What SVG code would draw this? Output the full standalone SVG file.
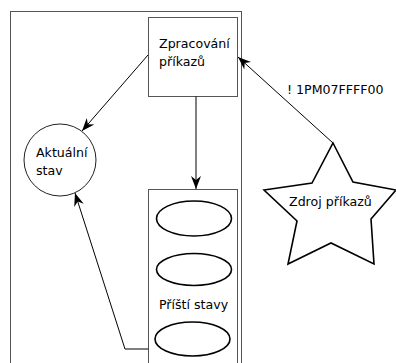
<svg xmlns="http://www.w3.org/2000/svg" width="396" height="363" viewBox="0 0 396 363">
<style>
text{font-family:"DejaVu Sans",sans-serif;font-size:12.6px;fill:#000}
.box{fill:#fff;stroke:#555;stroke-width:1}
.circ{fill:#fff;stroke:#222;stroke-width:1}
.shape{fill:#fff;stroke:#000;stroke-width:1.6}
.edge{fill:none;stroke:#000;stroke-width:1}
</style>
<defs>
<marker id="ah" markerUnits="userSpaceOnUse" markerWidth="16" markerHeight="12" viewBox="-14 -6 16 12" refX="0" refY="0" orient="auto">
<path d="M0,0 L-13,-5 L-9,0 L-13,5 Z" fill="#000"/>
</marker>
</defs>
<rect width="396" height="363" fill="#fff"/>
<g id="outer"><rect class="box" x="10.5" y="11.5" width="231" height="360"/></g>
<g id="zpracovani">
<rect class="box" x="148.5" y="17.5" width="89" height="79"/>
<text x="159" y="48">Zpracování</text>
<text x="159" y="66">příkazů</text>
</g>
<g id="aktualni">
<circle class="circ" cx="60" cy="160" r="36"/>
<text x="36" y="157">Aktuální</text>
<text x="36" y="175">stav</text>
</g>
<g id="pristi">
<rect class="box" x="148.5" y="189.5" width="89" height="190"/>
<ellipse class="shape" cx="194" cy="218.5" rx="37.5" ry="17.5"/>
<ellipse class="shape" cx="194" cy="269.5" rx="37.5" ry="16"/>
<text x="159" y="309">Příští stavy</text>
<ellipse class="shape" cx="192.5" cy="339" rx="37.5" ry="17"/>
</g>
<g id="zdroj">
<polygon class="shape" points="333,143 353,182 396,190 371,219 374,264 331,243 288,264 297,221 264,190 312,183"/>
<text x="289" y="206">Zdroj příkazů</text>
</g>
<g id="connectors">
<line class="edge" x1="148" y1="55" x2="82" y2="131" marker-end="url(#ah)"/>
<line class="edge" x1="196" y1="96.5" x2="196" y2="189" marker-end="url(#ah)"/>
<line class="edge" x1="333" y1="143" x2="238" y2="57" marker-end="url(#ah)"/>
<polyline class="edge" points="148.5,349 125,349 75,193" marker-end="url(#ah)"/>
<text x="287" y="94">! 1PM07FFFF00</text>
</g>
</svg>
